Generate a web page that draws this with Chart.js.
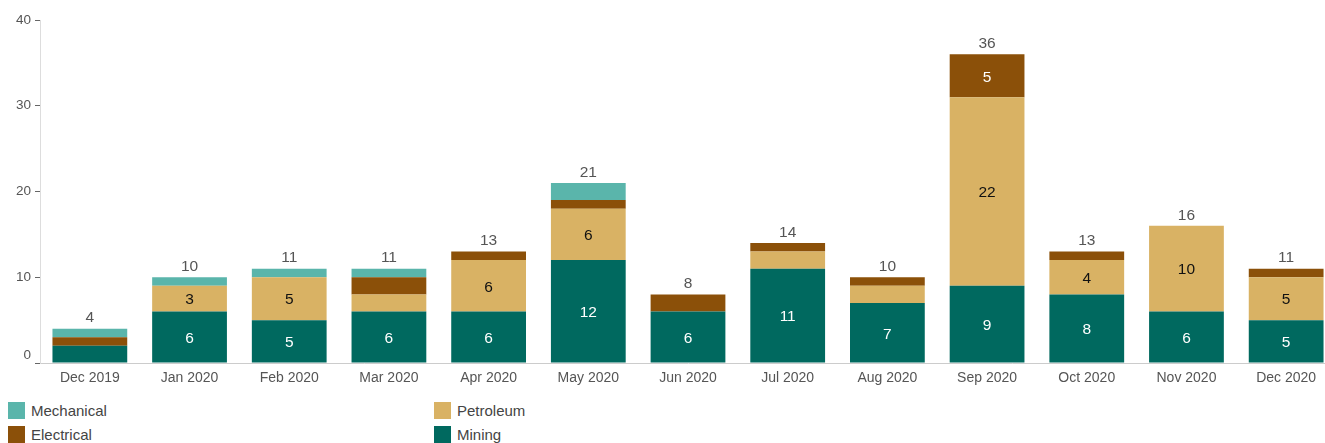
<!DOCTYPE html>
<html>
<head>
<meta charset="utf-8">
<script src="https://cdn.jsdelivr.net/npm/chart.js@4"></script>
<style>
    html, body {
        margin: 0;
        padding: 0;
        background: #fff;
        width: 1325px;
        height: 443px;
        overflow: hidden;
        font-family: "Liberation Sans", Arial, sans-serif;
    }
    #wrap {
        position: relative;
        width: 1336px;
        height: 395px;
    }
    #legend {
        position: absolute;
        left: 8px;
        top: 402px;
        width: 900px;
        font-size: 15px;
        color: #444;
    }
    .item {
        position: absolute;
        display: flex;
        align-items: center;
        height: 17px;
        white-space: nowrap;
    }
    .box {
        width: 17px;
        height: 17px;
        margin-right: 6px;
    }
</style>
</head>
<body>
<div id="wrap"><canvas id="chart" width="1336" height="395"></canvas></div>
<div id="legend"></div>
<script>
const labels = ["Dec 2019", "Jan 2020", "Feb 2020", "Mar 2020", "Apr 2020", "May 2020", "Jun 2020",
    "Jul 2020", "Aug 2020", "Sep 2020", "Oct 2020", "Nov 2020", "Dec 2020"];
const mining = [2, 6, 5, 6, 6, 12, 6, 11, 7, 9, 8, 6, 5];
const petroleum = [0, 3, 5, 2, 6, 6, 0, 2, 2, 22, 4, 10, 5];
const electrical = [1, 0, 0, 2, 1, 1, 2, 1, 1, 5, 1, 0, 1];
const mechanical = [1, 1, 1, 1, 0, 2, 0, 0, 0, 0, 0, 0, 0];
const yTicks = [0, 10, 20, 30, 40];

const FONT = '"Liberation Sans", Arial, sans-serif';

const colors = {
    mining: "#00695f",
    petroleum: "#d9b264",
    electrical: "#8b5009",
    mechanical: "#5ab5ab"
};

const totals = labels.map((_, i) => mining[i] + petroleum[i] + electrical[i] + mechanical[i]);

let barLabelsPlugin = {
    afterDatasetsDraw: (chart) => {
        const {ctx} = chart;
        ctx.save();
        ctx.font = "15.5px " + FONT;
        ctx.textAlign = "center";
        ctx.textBaseline = "middle";
        chart.data.datasets.forEach((ds, di) => {
            const meta = chart.getDatasetMeta(di);
            meta.data.forEach((bar, i) => {
                const v = ds.data[i];
                if (v < 3) return;
                ctx.fillStyle = ds.textColor;
                ctx.fillText(String(v), bar.x, (bar.y + bar.base) / 2 + 1.5);
            });
        });
        // totals on top of each stack
        const y = chart.scales.y;
        const x = chart.scales.x;
        ctx.fillStyle = "#555";
        totals.forEach((t, i) => {
            ctx.fillText(String(t), x.getPixelForValue(i), y.getPixelForValue(t) - 10.5);
        });
        ctx.restore();
    }
}

let yLabelsPlugin = {
    afterDraw: (chart) => {
        const {ctx, scales: {y}} = chart;
        ctx.save();
        ctx.font = "13.5px " + FONT;
        ctx.fillStyle = "#555";
        ctx.textAlign = "right";
        ctx.textBaseline = "middle";
        yTicks.forEach(t => {
            const py = y.getPixelForValue(t) - (t === 0 ? 8 : 0);
            ctx.fillText(String(t), 31, py);
        });
        ctx.restore();
    }
}

function dataset(label, data, color, textColor) {
    return {
        label: label,
        data: data,
        backgroundColor: color,
        textColor: textColor,
        borderWidth: 0,
        barPercentage: 0.75,
        categoryPercentage: 1.0
    };
}

const chart = new Chart(document.getElementById("chart"), {
    type: "bar",
    data: {
        labels: labels,
        datasets: [
            dataset("Mining", mining, colors.mining, "#fff"),
            dataset("Petroleum", petroleum, colors.petroleum, "#111"),
            dataset("Electrical", electrical, colors.electrical, "#fff"),
            dataset("Mechanical", mechanical, colors.mechanical, "#fff")
        ]
    },
    options: {
        responsive: false,
        animation: false,
        layout: {padding: {top: 20, right: 0, left: 0, bottom: 0}},
        plugins: {
            legend: {display: false},
            tooltip: {enabled: false}
        },
        scales: {
            x: {
                stacked: true,
                grid: {display: false},
                border: {display: true, color: "#ccc", dash: [2, 2]},
                ticks: {
                    color: "#555",
                    font: {family: FONT, size: 14},
                    padding: -1,
                    maxRotation: 0
                },
                afterFit: (scale) => {
                    scale.height = 32;
                }
            },
            y: {
                stacked: true,
                min: 0,
                max: 40,
                afterBuildTicks: (scale) => {
                    scale.ticks = yTicks.map(v => ({value: v}));
                },
                grid: {
                    drawOnChartArea: false,
                    drawTicks: true,
                    tickLength: 5,
                    color: "#666"
                },
                border: {display: true, color: "#ddd"},
                ticks: {color: "rgba(0,0,0,0)", padding: 0},
                afterFit: (scale) => {
                    scale.width = 40;
                }
            }
        }
    },
    plugins: [barLabelsPlugin, yLabelsPlugin]
});

// legend, two columns like the original
const legendItems = [
    ["Mechanical", colors.mechanical, 0, 0],
    ["Electrical", colors.electrical, 0, 24],
    ["Petroleum", colors.petroleum, 426, 0],
    ["Mining", colors.mining, 426, 24]
];
const legend = document.getElementById("legend");
legendItems.forEach(([name, color, left, top]) => {
    const el = document.createElement("div");
    el.className = "item";
    el.style.left = left + "px";
    el.style.top = top + "px";
    el.innerHTML = `<span class="box" style="background:${color}"></span><span>${name}</span>`;
    legend.appendChild(el);
});
</script>
</body>
</html>
